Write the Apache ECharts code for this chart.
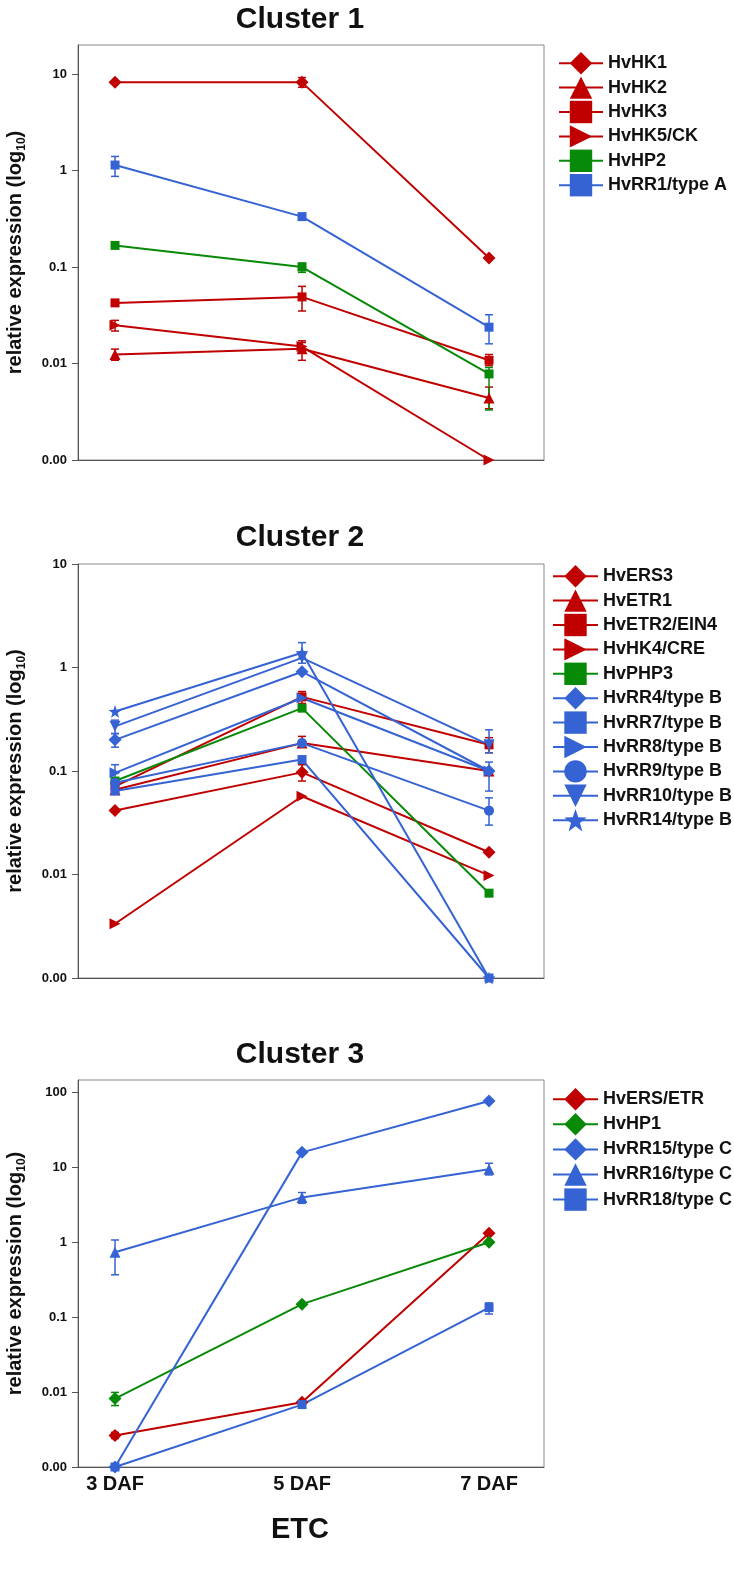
<!DOCTYPE html>
<html><head><meta charset="utf-8">
<script src="https://cdn.jsdelivr.net/npm/echarts@6/dist/echarts.min.js"></script>
<style>html,body{margin:0;padding:0;background:#fff}#c{width:734px;height:1579px}</style>
</head><body><div id="c"></div>
<script>
// ---------- DATA ----------
const days = [3, 5, 7];
const dayLabels = ['3 DAF', '5 DAF', '7 DAF'];
const clusterTitles = ['Cluster 1', 'Cluster 2', 'Cluster 3'];
const yTicks = [[0.001, 0.01, 0.1, 1, 10], [0.001, 0.01, 0.1, 1, 10], [0.001, 0.01, 0.1, 1, 10, 100]];
const yTickText = ['0.00', '0.01', '0.1', '1', '10', '100'];

// Cluster 1
const c1Names = ['HvHK1', 'HvHK2', 'HvHK3', 'HvHK5/CK', 'HvHP2', 'HvRR1/type A'];
const c1Values = [
  [8.2, 8.2, 0.124],
  [0.0124, 0.0142, 0.0044],
  [0.0425, 0.049, 0.0108],
  [0.0249, 0.015, 0.001],
  [0.1675, 0.1, 0.0078],
  [1.14, 0.333, 0.0238]
];
const c1ErrLow = [
  [null, 7.3, null],
  [0.0108, 0.0108, 0.0034],
  [null, 0.035, 0.0095],
  [0.0217, 0.0135, null],
  [null, 0.088, 0.0033],
  [0.87, null, 0.016]
];
const c1ErrHigh = [
  [null, 9.2, null],
  [0.0141, 0.0172, 0.0057],
  [null, 0.063, 0.0124],
  [0.028, 0.0165, null],
  [null, 0.11, 0.0091],
  [1.4, null, 0.032]
];

// Cluster 2
const c2Names = ['HvERS3', 'HvETR1', 'HvETR2/EIN4', 'HvHK4/CRE', 'HvPHP3', 'HvRR4/type B', 'HvRR7/type B', 'HvRR8/type B', 'HvRR9/type B', 'HvRR10/type B', 'HvRR14/type B'];
const c2Values = [
  [0.0415, 0.097, 0.0164],
  [0.066, 0.186, 0.1],
  [0.071, 0.52, 0.179],
  [0.00334, 0.057, 0.0098],
  [0.08, 0.405, 0.0066],
  [0.2, 0.91, 0.1],
  [0.064, 0.129, 0.001],
  [0.096, 0.507, 0.1],
  [0.077, 0.186, 0.0414],
  [0.27, 1.24, 0.179],
  [0.376, 1.39, 0.001]
];
const c2ErrLow = [
  [null, 0.08, null],
  [null, 0.17, null],
  [null, 0.45, 0.15],
  [null, null, null],
  [null, null, null],
  [0.17, null, null],
  [null, null, null],
  [0.08, null, 0.064],
  [null, null, 0.03],
  [0.23, null, 0.15],
  [null, 1.1, null]
];
const c2ErrHigh = [
  [null, 0.115, null],
  [null, 0.216, null],
  [null, 0.586, 0.21],
  [null, null, null],
  [null, null, null],
  [0.23, null, null],
  [null, null, null],
  [0.115, null, 0.122],
  [null, null, 0.055],
  [0.31, null, 0.25],
  [null, 1.74, null]
];

// Cluster 3
const c3Names = ['HvERS/ETR', 'HvHP1', 'HvRR15/type C', 'HvRR16/type C', 'HvRR18/type C'];
const c3Values = [
  [0.00264, 0.0073, 1.32],
  [0.0082, 0.149, 1.0],
  [0.001, 15.8, 76.7],
  [0.735, 3.96, 9.4],
  [0.001, 0.0068, 0.134]
];
const c3ErrLow = [
  [0.0024, null, null],
  [0.0066, null, null],
  [null, null, null],
  [0.367, 3.3, 7.9],
  [null, null, 0.11]
];
const c3ErrHigh = [
  [0.0029, null, null],
  [0.0099, null, null],
  [null, null, null],
  [1.07, 4.6, 11.3],
  [null, null, 0.155]
];

// ---------- STYLE ----------
const COL = { red: '#C00000', green: '#078A07', blue: '#3563D3' };
const STAR = 'path://M10,0L12.35,6.76L19.51,6.91L13.8,11.24L15.88,18.09L10,14L4.12,18.09L6.2,11.24L0.49,6.91L7.65,6.76Z';
const SYM = {
  diamond: ['diamond', 13],
  triangle: ['triangle', 11],
  square: ['rect', 9],
  tright: ['path://M0,0L10,5L0,10Z', 11],
  tdown: ['path://M0,0L10,0L5,10Z', 11],
  circle: ['circle', 10],
  star: [STAR, 13]
};
const c1Styles = [['red','diamond'],['red','triangle'],['red','square'],['red','tright'],['green','square'],['blue','square']];
const c2Styles = [['red','diamond'],['red','triangle'],['red','square'],['red','tright'],['green','square'],['blue','diamond'],['blue','square'],['blue','tright'],['blue','circle'],['blue','tdown'],['blue','star']];
const c3Styles = [['red','diamond'],['green','diamond'],['blue','diamond'],['blue','triangle'],['blue','square']];

const FONT = '"Liberation Sans", Arial, sans-serif';
const grids = [
  { left: 78, top: 45, width: 466, height: 415 },
  { left: 78, top: 564, width: 466, height: 414 },
  { left: 78, top: 1080, width: 466, height: 387 }
];
const yMax = [20, 10, 146];
const titleY = [20, 538, 1055];

const clusters = [
  [c1Names, c1Values, c1ErrLow, c1ErrHigh, c1Styles],
  [c2Names, c2Values, c2ErrLow, c2ErrHigh, c2Styles],
  [c3Names, c3Values, c3ErrLow, c3ErrHigh, c3Styles]
];

function tickLabel(v) {
  const all = [0.001, 0.01, 0.1, 1, 10, 100];
  for (let i = 0; i < all.length; i++) if (Math.abs(v - all[i]) / all[i] < 1e-6) return yTickText[i];
  return '';
}

const series = [];
clusters.forEach(([names, vals, lo, hi, sty], gi) => {
  names.forEach((nm, si) => {
    const color = COL[sty[si][0]];
    const sym = SYM[sty[si][1]];
    const errData = [];
    days.forEach((d, k) => { if (lo[si][k] != null) errData.push([d, lo[si][k], hi[si][k]]); });
    if (errData.length) {
      series.push({
        type: 'custom', name: nm + ' error', xAxisIndex: gi, yAxisIndex: gi, z: 2,
        encode: { x: 0, y: [1, 2] }, silent: true,
        data: errData,
        renderItem: (params, api) => {
          const x = api.value(0);
          const p1 = api.coord([x, api.value(1)]);
          const p2 = api.coord([x, api.value(2)]);
          const w = 4;
          const st = { stroke: color, lineWidth: 1.5 };
          return { type: 'group', children: [
            { type: 'line', shape: { x1: p1[0], y1: p1[1], x2: p2[0], y2: p2[1] }, style: st },
            { type: 'line', shape: { x1: p1[0] - w, y1: p1[1], x2: p1[0] + w, y2: p1[1] }, style: st },
            { type: 'line', shape: { x1: p2[0] - w, y1: p2[1], x2: p2[0] + w, y2: p2[1] }, style: st }
          ]};
        }
      });
    }
    series.push({
      type: 'line', name: nm, xAxisIndex: gi, yAxisIndex: gi, z: 3,
      data: days.map((d, k) => [d, vals[si][k]]),
      symbol: sym[0], symbolSize: sym[1], showSymbol: true,
      itemStyle: { color: color },
      lineStyle: { color: color, width: 2 },
      emphasis: { disabled: true }
    });
  });
});

const xAxis = grids.map((g, i) => ({
  type: 'value', gridIndex: i, min: 2.604, max: 7.588,
  splitLine: { show: false }, axisTick: { show: false },
  axisLine: { show: true, lineStyle: { color: '#555', width: 1 } },
  axisLabel: {
    show: i === 2, customValues: days, margin: 7,
    formatter: v => dayLabels[days.indexOf(v)] || '',
    fontSize: 20, fontWeight: 'bold', color: '#111', fontFamily: FONT
  },
  name: i === 2 ? 'ETC' : '', nameLocation: 'middle', nameGap: 48,
  nameTextStyle: { fontSize: 29, fontWeight: 'bold', color: '#111', fontFamily: FONT, padding: [0, 22, 0, 0] }
}));

const yAxis = grids.map((g, i) => ({
  type: 'log', logBase: 10, gridIndex: i, min: 0.001, max: yMax[i],
  splitLine: { show: false },
  axisLine: { show: true, lineStyle: { color: '#555', width: 1 } },
  axisTick: { show: true, length: 6, inside: false, customValues: yTicks[i], lineStyle: { color: '#555' } },
  axisLabel: {
    customValues: yTicks[i], margin: 11, formatter: v => tickLabel(v),
    fontSize: 13, fontWeight: 'bold', color: '#111', fontFamily: FONT
  },
  name: '{a|relative expression (log}{b|10}{a|)}', nameLocation: 'middle', nameGap: 51,
  nameTextStyle: {
    fontSize: 20, fontWeight: 'bold', color: '#111', fontFamily: FONT,
    rich: {
      a: { fontSize: 20, fontWeight: 'bold', color: '#111', fontFamily: FONT, verticalAlign: 'top', lineHeight: 22 },
      b: { fontSize: 12, fontWeight: 'bold', color: '#111', fontFamily: FONT, verticalAlign: 'top', padding: [11, 0, 0, 0], lineHeight: 12 }
    }
  }
}));

const legendBase = {
  orient: 'vertical', itemHeight: 28, itemGap: 2, selectedMode: false,
  textStyle: { fontSize: 18, fontWeight: 'bold', color: '#111', fontFamily: FONT }
};
const legend = [
  Object.assign({}, legendBase, { left: 553, top: 47, itemWidth: 44, data: c1Names }),
  Object.assign({}, legendBase, { left: 547, top: 560, itemWidth: 45, data: c2Names }),
  Object.assign({}, legendBase, { left: 547, top: 1083, itemWidth: 45, itemGap: 2.7, data: c3Names })
];

const graphic = clusterTitles.map((t, i) => ({
  type: 'text', x: 300, y: titleY[i], silent: true,
  style: { text: t, font: 'bold 30px ' + FONT, fill: '#111', textAlign: 'center', textVerticalAlign: 'middle' }
}));

const chart = echarts.init(document.getElementById('c'), null, { renderer: 'canvas' });
chart.setOption({
  animation: false,
  backgroundColor: '#fff',
  grid: grids.map(g => Object.assign({ show: true, borderColor: '#888', borderWidth: 1, backgroundColor: 'transparent', containLabel: false, outerBoundsMode: 'none' }, g)),
  xAxis, yAxis, legend, graphic, series
});
</script></body></html>
